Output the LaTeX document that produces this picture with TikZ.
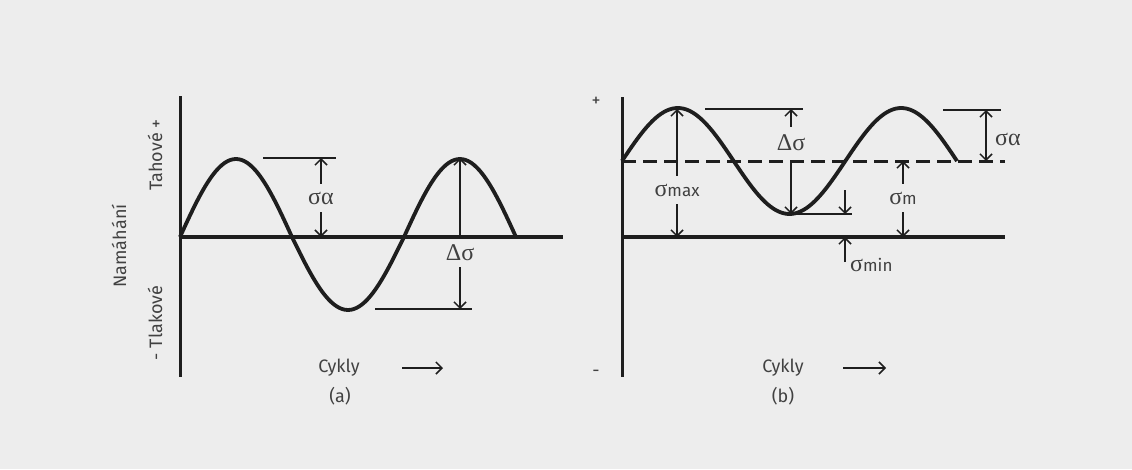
\documentclass[tikz,border=0pt]{standalone}
\usepackage{fontspec}
\setmainfont{Fira Sans}
\setsansfont{Fira Sans}
\newfontfamily\gkfont{Liberation Serif}
\usetikzlibrary{arrows.meta}
\definecolor{inkc}{RGB}{30,30,30}
\definecolor{textc}{RGB}{65,65,65}
\definecolor{bgc}{RGB}{237,237,237}
\newcommand{\gk}[1]{{\gkfont\fontsize{24}{24}\selectfont #1}}
\newcommand{\sub}[1]{{\fontsize{17}{17}\selectfont #1}}

\begin{document}
\begin{tikzpicture}[
  x=1pt, y=-1pt,
  font=\sffamily\fontsize{18}{18}\selectfont,
  axis/.style={line width=3.3pt, draw=inkc},
  wave/.style={line width=3.8pt, draw=inkc, line join=round},
  guide/.style={line width=1.5pt, draw=inkc},
  dim/.style={line width=1.5pt, draw=inkc, -{Straight Barb[length=6pt,width=12pt]}},
  lbl/.style={text=textc, inner sep=1pt},
  sym/.style={text=inkc!85, inner xsep=1pt, inner ysep=8pt}
]

\fill[bgc] (0,0) rectangle (1132,469);
\useasboundingbox (0,0) rectangle (1132,469);

% (a) axes and labels
\coordinate (atop) at (180,96);
\coordinate (abot) at (180,377);
\coordinate (ao) at (180,237);
\coordinate (aend) at (563,237);
\draw[axis, line width=3pt] (atop) -- (abot);
\draw[axis, line width=4pt] (ao) -- (aend);

\node[lbl, rotate=90] (tah) at (155,155) {Tahové +};
\node[lbl, rotate=90] (tlak) at (155,323) {- Tlakové};
\node[lbl, rotate=90] (nam) at (119,246) {Namáhání};

\draw[wave] plot[domain=0:540, samples=121, smooth]
  ({180+0.6222*\x}, {237-(sin(\x)>0 ? 78 : 73)*sin(\x)});

% (a) amplitude
\coordinate (ap1l) at (263,158);
\coordinate (ap1r) at (336,158);
\draw[guide] (ap1l) -- (ap1r);
\node[sym] (sa) at (321,198) {\gk{σα}};
\draw[dim] (sa.north) -- (sa.north |- ap1r);
\draw[dim] (sa.south) -- (sa.south |- ao);

% (a) range
\coordinate (ap2) at (460,158);
\coordinate (atrl) at (375,309);
\coordinate (atrr) at (472,309);
\draw[guide] (atrl) -- (atrr);
\draw[dim] (ap2 |- ao) -- (ap2);
\node[sym, inner ysep=6pt] (dsa) at (460,253) {\gk{Δσ}};
\draw[dim] (dsa.south) -- (dsa.south |- atrr);

\node[lbl] (cya) at (339,368) {Cykly};
\coordinate (cya-s) at (402,368);
\coordinate (cya-e) at (443,368);
\draw[dim] (cya-s) -- (cya-e);
\node[lbl] (capa) at (340,396) {(a)};

% (b) axes and labels
\coordinate (btop) at (622,97);
\coordinate (bbot) at (622,377);
\coordinate (bo) at (622,237);
\coordinate (bend) at (1005,237);
\coordinate (bm) at (622,161);
\coordinate (bmend) at (1005,161);
\draw[axis, line width=3pt] (btop) -- (bbot);
\draw[axis, line width=4pt] (bo) -- (bend);
\draw[axis, line width=3pt, dash pattern=on 14pt off 7pt] (bm) -- (bmend);

\node[lbl] (plus) at (596,102) {+};
\node[lbl] (minus) at (596,373) {-};

\draw[wave] plot[domain=0:540, samples=121, smooth]
  ({622+0.6204*\x}, {161-53*sin(\x)});

% (b) max
\coordinate (bp1) at (677,109);
\node[sym] (smax) at (677,190) {\gk{σ}\sub{max}};
\draw[dim] (smax.north) -- (bp1);
\draw[dim] (smax.south) -- (smax.south |- bo);

% (b) range
\coordinate (bp1l) at (705,109);
\coordinate (bp1r) at (803,109);
\draw[guide] (bp1l) -- (bp1r);
\node[sym] (dsb) at (791,143) {\gk{Δσ}};
\draw[dim] (dsb.north) -- (dsb.north |- bp1r);
\coordinate (btr) at (791,214);
\coordinate (btrr) at (852,214);
\draw[guide] (btr) -- (btrr);
\draw[dim] (dsb |- bm) -- (btr);

% (b) min
\coordinate (mn-t) at (845,190);
\coordinate (mn-b) at (845,262);
\draw[dim] (mn-t) -- (mn-t |- btr);
\draw[dim] (mn-b) -- (mn-b |- bo);
\node[sym, anchor=west, inner ysep=1pt] (smin) at (849,265) {\gk{σ}\sub{min}};

% (b) mean
\node[sym] (sm) at (903,198) {\gk{σ}\sub{m}};
\draw[dim] (sm.north) -- (sm.north |- bm);
\draw[dim] (sm.south) -- (sm.south |- bo);

% (b) amplitude
\coordinate (bp2l) at (943,110);
\coordinate (bp2r) at (1001,110);
\draw[guide] (bp2l) -- (bp2r);
\coordinate (sab-t) at (986,110);
\draw[dim, {Straight Barb[length=6pt,width=12pt]}-{Straight Barb[length=6pt,width=12pt]}] (sab-t) -- (sab-t |- bm);
\node[sym, anchor=west, inner ysep=1pt] (sab) at (994,139) {\gk{σα}};

\node[lbl] (cyb) at (783,368) {Cykly};
\coordinate (cyb-s) at (843,368);
\coordinate (cyb-e) at (886,368);
\draw[dim] (cyb-s) -- (cyb-e);
\node[lbl] (capb) at (783,396) {(b)};

\end{tikzpicture}
\end{document}
